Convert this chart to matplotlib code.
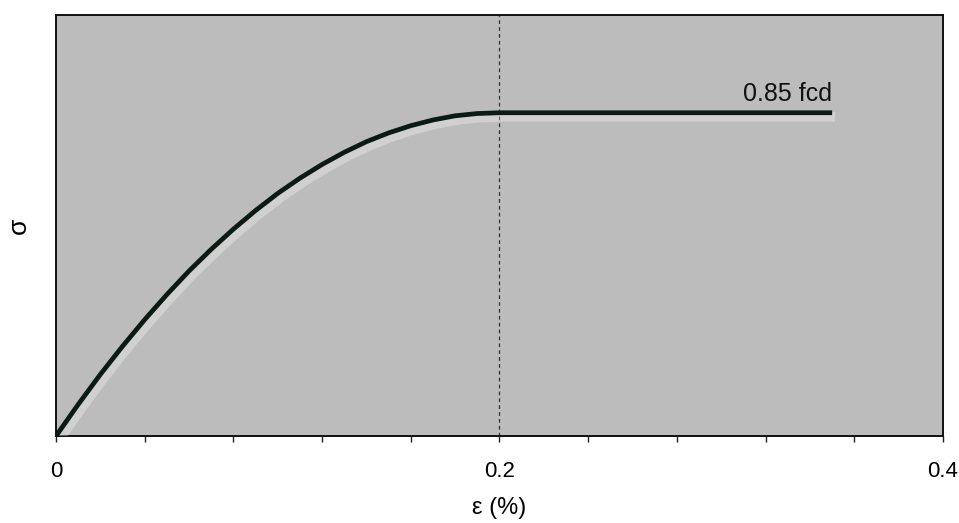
import matplotlib
matplotlib.use("Agg")
import matplotlib.pyplot as plt
from matplotlib.ticker import FixedLocator, FixedFormatter
import matplotlib.transforms as mtransforms

plt.rcParams['font.family'] = ['Liberation Sans', 'DejaVu Sans']

# strain (%) and stress values
strain = [0.00, 0.01, 0.02, 0.03, 0.04, 0.05, 0.06, 0.07, 0.08, 0.09, 0.10,
          0.11, 0.12, 0.13, 0.14, 0.15, 0.16, 0.17, 0.18, 0.19, 0.20, 0.35]
stress = [0.000, 0.083, 0.162, 0.236, 0.306, 0.372, 0.434, 0.491, 0.544, 0.593, 0.638,
          0.678, 0.714, 0.746, 0.774, 0.797, 0.816, 0.831, 0.842, 0.848, 0.850, 0.850]
xticks = [0.0, 0.04, 0.08, 0.12, 0.16, 0.2, 0.24, 0.28, 0.32, 0.36, 0.4]
xticklabels = ['0', '', '', '', '', '0.2', '', '', '', '', '0.4']
eps_c1 = 0.2
label_text = '0.85 fcd'

fig = plt.figure(figsize=(9.59, 5.23), dpi=100)
ax = fig.add_axes([0.0584, 0.1663, 0.9249, 0.805])
ax.set_facecolor('#bcbcbc')

ax.axvline(eps_c1, color='#333333', lw=0.9, ls=(0, (3, 2.5)), zorder=2)

# light halo under the curve
halo = mtransforms.offset_copy(ax.transData, fig=fig, x=3, y=-4, units='dots')
ax.plot(strain, stress, color='white', lw=7, alpha=0.3, transform=halo,
        solid_capstyle='butt', zorder=3)
ax.plot(strain, stress, color='#0b1a12', lw=3.4, solid_capstyle='butt', zorder=4)

ax.annotate(label_text, xy=(strain[-1], stress[-1]), xytext=(0, 5),
            textcoords='offset points', ha='right', va='bottom', fontsize=18,
            color='#111111', zorder=5)

ax.set_xlim(0, 0.4)
ax.set_ylim(0, 1.107)
ax.xaxis.set_major_locator(FixedLocator(xticks))
ax.xaxis.set_major_formatter(FixedFormatter(xticklabels))
ax.tick_params(axis='x', direction='out', length=4, width=1, pad=14,
               labelsize=16, color='#222222')
ax.set_yticks([])
for s in ax.spines.values():
    s.set_linewidth(1.4)
    s.set_color('#111111')

ax.set_xlabel('ε (%)', fontsize=17, labelpad=11)
ax.set_ylabel('σ', fontsize=19, labelpad=18)

fig.savefig('out.png', dpi=100, facecolor='white')
